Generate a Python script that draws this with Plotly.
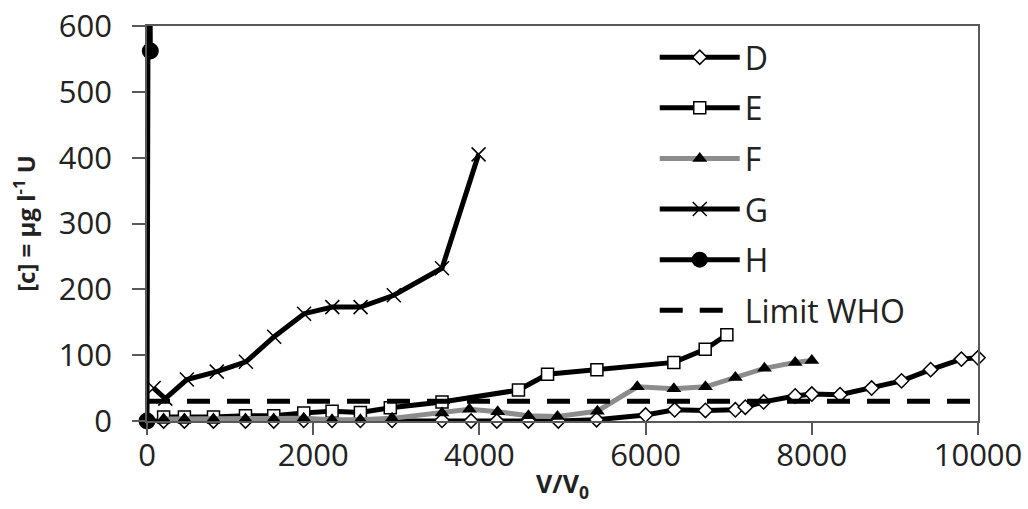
import plotly.graph_objects as go

# ---- data ----
d_x = [0, 200, 450, 800, 1185, 1525, 1886, 2227, 2568, 2949, 3550, 3900, 4210, 4590, 4950, 5410,
       6000, 6350, 6720, 7080, 7200, 7420, 7800, 8000, 8340, 8720, 9080, 9430, 9800, 10000]
d_y = [0, 0, 0, 0, 0, 0, 1, 1, 1, 1, 1, 0, 0, 0, 0, 2,
       9, 17, 16, 17, 21, 29, 38, 41, 40, 50, 61, 78, 94, 96]

e_x = [200, 450, 800, 1185, 1525, 1886, 2227, 2568, 2928, 3550, 4470, 4820, 5414, 6340, 6717, 6978]
e_y = [6, 6, 6, 8, 8, 12, 15, 13, 20, 29, 47, 71, 78, 89, 109, 131]

f_x = [200, 450, 800, 1185, 1525, 1886, 2227, 2568, 2949, 3550, 3880, 4220, 4590, 4940, 5420,
       5900, 6340, 6720, 7080, 7430, 7800, 8000]
f_y = [3, 3, 3, 3, 3, 4, 2, 2, 4, 12, 18, 14, 8, 7, 15,
       52, 49, 52, 66, 80, 89, 92]

g_x = [80, 220, 480, 840, 1190, 1530, 1890, 2230, 2570, 2970, 3550, 3990]
g_y = [50, 34, 63, 75, 90, 128, 163, 173, 173, 191, 232, 405]

h_x = [0, 20, 40]
h_y = [0, 1000, 562]

who_x = [0, 10000]
who_y = [30, 30]

x_ticks = [0, 2000, 4000, 6000, 8000, 10000]
y_ticks = [0, 100, 200, 300, 400, 500, 600]

FONT = "Open Sans"
TXT = "#222222"
LW = 5
fig = go.Figure()

fig.add_trace(go.Scatter(
    x=d_x, y=d_y, name="D", mode="lines+markers", legendgroup="D",
    line=dict(color="black", width=LW),
    marker=dict(symbol="diamond", size=11, color="white", line=dict(color="black", width=1.5)),
    cliponaxis=False))
fig.add_trace(go.Scatter(
    x=e_x, y=e_y, name="E", mode="lines+markers", legendgroup="E",
    line=dict(color="black", width=LW),
    marker=dict(symbol="square", size=12, color="white", line=dict(color="black", width=1.5)),
    cliponaxis=False))
fig.add_trace(go.Scatter(
    x=f_x, y=f_y, name="F", mode="lines+markers", legendgroup="F",
    line=dict(color="#8c8c8c", width=LW),
    marker=dict(symbol="triangle-up", size=13, color="black", line=dict(color="black", width=0)),
    cliponaxis=False))
fig.add_trace(go.Scatter(
    x=g_x, y=g_y, name="G", mode="lines+markers", legendgroup="G",
    line=dict(color="black", width=LW),
    marker=dict(symbol="x-thin", size=14, color="black", line=dict(color="black", width=1.5)),
    cliponaxis=False))
fig.add_trace(go.Scatter(
    x=h_x, y=h_y, name="H", mode="lines+markers", legendgroup="H",
    line=dict(color="black", width=LW),
    marker=dict(symbol="circle", size=17, color="black", line=dict(color="black", width=0)),
    cliponaxis=False))
fig.add_trace(go.Scatter(
    x=who_x, y=who_y, name="Limit WHO", mode="lines", legendgroup="W",
    line=dict(color="black", width=LW, dash="23px,17px"),
    cliponaxis=True))

axis_common = dict(
    showgrid=False, zeroline=False, showline=True, linecolor="#595959", linewidth=1.5,
    mirror=True, ticks="outside", tickcolor="#595959", tickwidth=1.5,
    tickfont=dict(family=FONT, size=31, color=TXT),
)

fig.update_xaxes(
    range=[0, 10000], tickvals=x_ticks, ticktext=[str(v) for v in x_ticks], ticklen=12,
    ticklabelstandoff=-6, automargin=False,
    title=dict(text="<b>V/V<sub>0</sub></b>", font=dict(family=FONT, size=25, color=TXT), standoff=2),
    **axis_common)
fig.update_yaxes(
    range=[0, 600], tickvals=y_ticks, ticktext=[str(v) for v in y_ticks], ticklen=13,
    ticklabelstandoff=14, automargin=False,
    title=dict(text="<b>[c] = µg l<sup>-1</sup> U</b>", font=dict(family=FONT, size=24, color=TXT), standoff=16),
    **axis_common)

fig.update_layout(
    width=1028, height=509,
    margin=dict(l=146.5, r=50, t=26, b=88),
    plot_bgcolor="white", paper_bgcolor="white",
    font=dict(family=FONT, color=TXT),
    legend=dict(
        x=0.611, y=0.99, xanchor="left", yanchor="top",
        font=dict(family=FONT, size=32, color=TXT),
        bgcolor="rgba(255,255,255,0)", traceorder="grouped", tracegroupgap=6,
        itemwidth=80,
    ),
    showlegend=True,
)

fig.write_html("out.html", config={"displayModeBar": False},
               post_script="document.body.style.margin='0';document.body.style.overflow='hidden';")
